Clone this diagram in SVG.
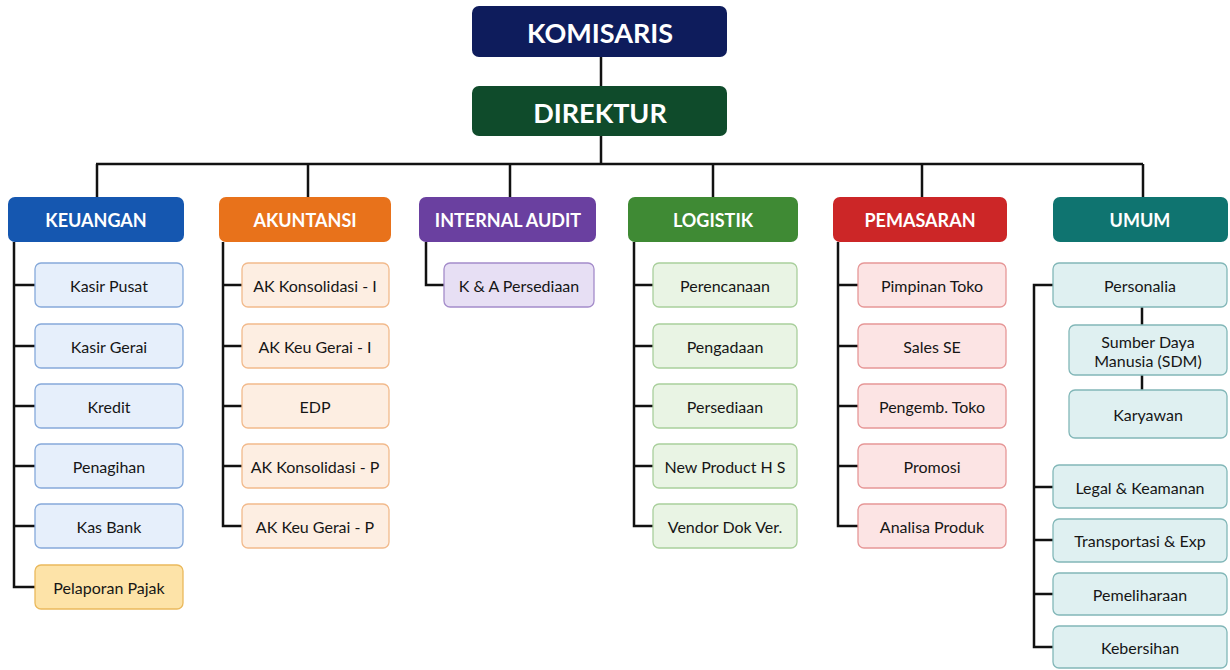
<svg xmlns="http://www.w3.org/2000/svg" width="1230" height="670" viewBox="0 0 1230 670">
<style>
text{font-family:Lato,"Open Sans","Liberation Sans",sans-serif;text-anchor:middle;dominant-baseline:central}
.top{font-size:27px;font-weight:700;fill:#fff}
.hd{font-size:18px;font-weight:700;fill:#fff}
.ch{font-size:16px;fill:#161616}
.ln{fill:none;stroke:#111;stroke-width:2.5}
.bk rect{fill:#e6effb;stroke:#86a9da;stroke-width:1.3}
.ak rect{fill:#fdeee2;stroke:#f2ba8c;stroke-width:1.3}
.ia rect{fill:#e7dff4;stroke:#a48cca;stroke-width:1.3}
.lg rect{fill:#e9f4e4;stroke:#a9cf9c;stroke-width:1.3}
.pm rect{fill:#fce4e4;stroke:#e69797;stroke-width:1.3}
.um rect{fill:#dff0f1;stroke:#82b7b8;stroke-width:1.3}
.pj rect{fill:#fde3a8;stroke:#eab95c;stroke-width:1.3}
</style>
<rect width="1230" height="670" fill="#fff"/>
<g id="connectors" class="ln">
<path d="M601 57V86M601 136V164M96 164H1143M97 164V197M308 164V197M510 164V197M713 164V197M922 164V197M1143 164V197"/>
<path d="M14 242V587H35M14 285H35M14 346H35M14 406H35M14 466H35M14 526H35"/>
<path d="M223 242V526H242M223 285H242M223 346H242M223 406H242M223 466H242"/>
<path d="M426 242V285H444"/>
<path d="M634 242V526H653M634 285H653M634 346H653M634 406H653M634 466H653"/>
<path d="M838 242V526H858M838 285H858M838 346H858M838 406H858M838 466H858"/>
<path d="M1053 285H1034V647H1053M1034 487H1053M1034 540H1053M1034 594H1053M1142 307V325M1142 375V390"/>
</g>
<g id="komisaris"><rect x="472" y="6" width="255" height="51" rx="7" fill="#0e1c5c"/><text class="top" x="600" y="32">KOMISARIS</text></g>
<g id="direktur"><rect x="472" y="86" width="255" height="50" rx="7" fill="#0f4b2b"/><text class="top" x="600" y="112">DIREKTUR</text></g>
<g id="keuangan"><rect x="8" y="197" width="176" height="45" rx="7" fill="#1557b0"/><text class="hd" x="96" y="220">KEUANGAN</text></g>
<g id="akuntansi"><rect x="219" y="197" width="172" height="45" rx="7" fill="#e8721b"/><text class="hd" x="305" y="220">AKUNTANSI</text></g>
<g id="internal-audit"><rect x="419" y="197" width="177" height="45" rx="7" fill="#6a40a0"/><text class="hd" x="508" y="220">INTERNAL AUDIT</text></g>
<g id="logistik"><rect x="628" y="197" width="170" height="45" rx="7" fill="#3f8a34"/><text class="hd" x="713" y="220">LOGISTIK</text></g>
<g id="pemasaran"><rect x="833" y="197" width="174" height="45" rx="7" fill="#cc2627"/><text class="hd" x="920" y="220">PEMASARAN</text></g>
<g id="umum"><rect x="1053" y="197" width="175" height="45" rx="7" fill="#0f7470"/><text class="hd" x="1140" y="220">UMUM</text></g>
<g id="kasir-pusat" class="bk"><rect x="35" y="263" width="148" height="44" rx="6"/><text class="ch" x="109" y="285">Kasir Pusat</text></g>
<g id="kasir-gerai" class="bk"><rect x="35" y="324" width="148" height="44" rx="6"/><text class="ch" x="109" y="346">Kasir Gerai</text></g>
<g id="kredit" class="bk"><rect x="35" y="384" width="148" height="44" rx="6"/><text class="ch" x="109" y="406">Kredit</text></g>
<g id="penagihan" class="bk"><rect x="35" y="444" width="148" height="44" rx="6"/><text class="ch" x="109" y="466">Penagihan</text></g>
<g id="kas-bank" class="bk"><rect x="35" y="504" width="148" height="44" rx="6"/><text class="ch" x="109" y="526">Kas Bank</text></g>
<g id="pelaporan-pajak" class="pj"><rect x="35" y="565" width="148" height="44" rx="6"/><text class="ch" x="109" y="587">Pelaporan Pajak</text></g>
<g id="ak-konsolidasi-i" class="ak"><rect x="242" y="263" width="147" height="44" rx="6"/><text class="ch" x="315" y="285">AK Konsolidasi - I</text></g>
<g id="ak-keu-gerai-i" class="ak"><rect x="242" y="324" width="147" height="44" rx="6"/><text class="ch" x="315" y="346">AK Keu Gerai - I</text></g>
<g id="edp" class="ak"><rect x="242" y="384" width="147" height="44" rx="6"/><text class="ch" x="315" y="406">EDP</text></g>
<g id="ak-konsolidasi-p" class="ak"><rect x="242" y="444" width="147" height="44" rx="6"/><text class="ch" x="315" y="466">AK Konsolidasi - P</text></g>
<g id="ak-keu-gerai-p" class="ak"><rect x="242" y="504" width="147" height="44" rx="6"/><text class="ch" x="315" y="526">AK Keu Gerai - P</text></g>
<g id="ka-persediaan" class="ia"><rect x="444" y="263" width="150" height="44" rx="6"/><text class="ch" x="519" y="285">K &amp; A Persediaan</text></g>
<g id="perencanaan" class="lg"><rect x="653" y="263" width="144" height="44" rx="6"/><text class="ch" x="725" y="285">Perencanaan</text></g>
<g id="pengadaan" class="lg"><rect x="653" y="324" width="144" height="44" rx="6"/><text class="ch" x="725" y="346">Pengadaan</text></g>
<g id="persediaan" class="lg"><rect x="653" y="384" width="144" height="44" rx="6"/><text class="ch" x="725" y="406">Persediaan</text></g>
<g id="new-product" class="lg"><rect x="653" y="444" width="144" height="44" rx="6"/><text class="ch" x="725" y="466">New Product H S</text></g>
<g id="vendor-dok" class="lg"><rect x="653" y="504" width="144" height="44" rx="6"/><text class="ch" x="725" y="526">Vendor Dok Ver.</text></g>
<g id="pimpinan-toko" class="pm"><rect x="858" y="263" width="148" height="44" rx="6"/><text class="ch" x="932" y="285">Pimpinan Toko</text></g>
<g id="sales-se" class="pm"><rect x="858" y="324" width="148" height="44" rx="6"/><text class="ch" x="932" y="346">Sales SE</text></g>
<g id="pengemb-toko" class="pm"><rect x="858" y="384" width="148" height="44" rx="6"/><text class="ch" x="932" y="406">Pengemb. Toko</text></g>
<g id="promosi" class="pm"><rect x="858" y="444" width="148" height="44" rx="6"/><text class="ch" x="932" y="466">Promosi</text></g>
<g id="analisa-produk" class="pm"><rect x="858" y="504" width="148" height="44" rx="6"/><text class="ch" x="932" y="526">Analisa Produk</text></g>
<g id="personalia" class="um"><rect x="1053" y="263" width="174" height="44" rx="6"/><text class="ch" x="1140" y="285">Personalia</text></g>
<g id="sdm" class="um"><rect x="1069" y="325" width="158" height="50" rx="6"/><text class="ch" x="1148" y="341">Sumber Daya</text><text class="ch" x="1148" y="360">Manusia (SDM)</text></g>
<g id="karyawan" class="um"><rect x="1069" y="390" width="158" height="48" rx="6"/><text class="ch" x="1148" y="414">Karyawan</text></g>
<g id="legal" class="um"><rect x="1053" y="465" width="174" height="43" rx="6"/><text class="ch" x="1140" y="487">Legal &amp; Keamanan</text></g>
<g id="transportasi" class="um"><rect x="1053" y="519" width="174" height="43" rx="6"/><text class="ch" x="1140" y="540">Transportasi &amp; Exp</text></g>
<g id="pemeliharaan" class="um"><rect x="1053" y="573" width="174" height="42" rx="6"/><text class="ch" x="1140" y="594">Pemeliharaan</text></g>
<g id="kebersihan" class="um"><rect x="1053" y="626" width="174" height="42" rx="6"/><text class="ch" x="1140" y="647">Kebersihan</text></g>
</svg>
